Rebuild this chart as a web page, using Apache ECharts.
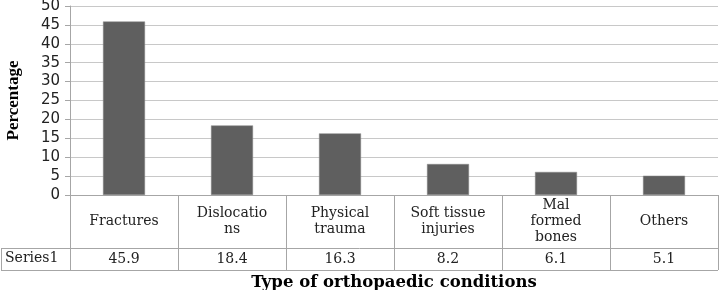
<!DOCTYPE html>
<html>
<head>
<meta charset="utf-8">
<script src="https://cdn.jsdelivr.net/npm/echarts@6/dist/echarts.min.js"></script>
<style>
  html, body { margin: 0; padding: 0; background: #fff; }
  #chart { width: 720px; height: 290px; }
</style>
</head>
<body>
<div id="chart"></div>
<script>
// datos del grafico
const categories = ['Fractures', 'Dislocatio\nns', 'Physical\ntrauma', 'Soft tissue\ninjuries', 'Mal\nformed\nbones', 'Others'];
const series1 = [45.9, 18.4, 16.3, 8.2, 6.1, 5.1];
const seriesName = 'Series1';
const yTicks = { min: 0, max: 50, interval: 5 };

const chart = echarts.init(document.getElementById('chart'));
const lineColor = '#a6a6a6';
const serif = '"DejaVu Serif", "Liberation Serif", serif';

const option = {
    animation: false,
    grid: { left: 70, right: 2, top: 6, bottom: 95, containLabel: false, outerBoundsMode: 'none' },
    xAxis: [{
        type: 'category',
        data: categories,
        axisLine: { lineStyle: { color: lineColor } },
        axisTick: { show: true, length: 75, lineStyle: { color: lineColor } },
        axisLabel: {
            interval: 0,
            margin: 26,
            verticalAlign: 'middle',
            fontFamily: serif,
            fontSize: 14,
            lineHeight: 16,
            color: '#222'
        }
    }, {
        type: 'category',
        position: 'bottom',
        offset: 53,
        data: series1.map(v => v.toFixed(1)),
        axisLine: { show: false },
        axisTick: { show: false },
        axisLabel: {
            interval: 0,
            margin: 11,
            verticalAlign: 'middle',
            fontFamily: serif,
            fontSize: 14,
            color: '#222'
        },
        name: 'Type of orthopaedic conditions',
        nameLocation: 'middle',
        nameGap: 35,
        nameTextStyle: {
            fontFamily: serif,
            fontWeight: 'bold',
            fontSize: 16.5,
            color: '#000',
            verticalAlign: 'middle'
        }
    }],
    yAxis: {
        type: 'value',
        min: yTicks.min,
        max: yTicks.max,
        interval: yTicks.interval,
        axisLine: { show: true, lineStyle: { color: lineColor } },
        axisTick: { show: true, length: 5, lineStyle: { color: lineColor } },
        splitLine: { lineStyle: { color: '#c8c8c8' } },
        axisLabel: {
            fontFamily: '"DejaVu Sans", sans-serif',
            fontSize: 15,
            margin: 10,
            color: '#222'
        },
        name: 'Percentage',
        nameLocation: 'middle',
        nameGap: 48,
        nameTextStyle: {
            fontFamily: '"Liberation Serif", serif',
            fontWeight: 'bold',
            fontSize: 17,
            color: '#000'
        }
    },
    series: [{
        name: seriesName,
        type: 'bar',
        data: series1,
        barWidth: 42,
        itemStyle: { color: '#5f5f5f', borderColor: '#888', borderWidth: 0.5 }
    }],
    graphic: [
        // bordes de la fila de la tabla
        { type: 'line', shape: { x1: 1, y1: 248.5, x2: 718, y2: 248.5 }, style: { stroke: lineColor, lineWidth: 1 } },
        { type: 'line', shape: { x1: 1, y1: 270.5, x2: 718, y2: 270.5 }, style: { stroke: lineColor, lineWidth: 1 } },
        { type: 'line', shape: { x1: 1.5, y1: 248, x2: 1.5, y2: 271 }, style: { stroke: lineColor, lineWidth: 1 } },
        {
            type: 'text', left: 5, top: 251,
            style: { text: seriesName, font: '14px ' + serif, fill: '#222' }
        }
    ]
};

chart.setOption(option);
</script>
</body>
</html>
